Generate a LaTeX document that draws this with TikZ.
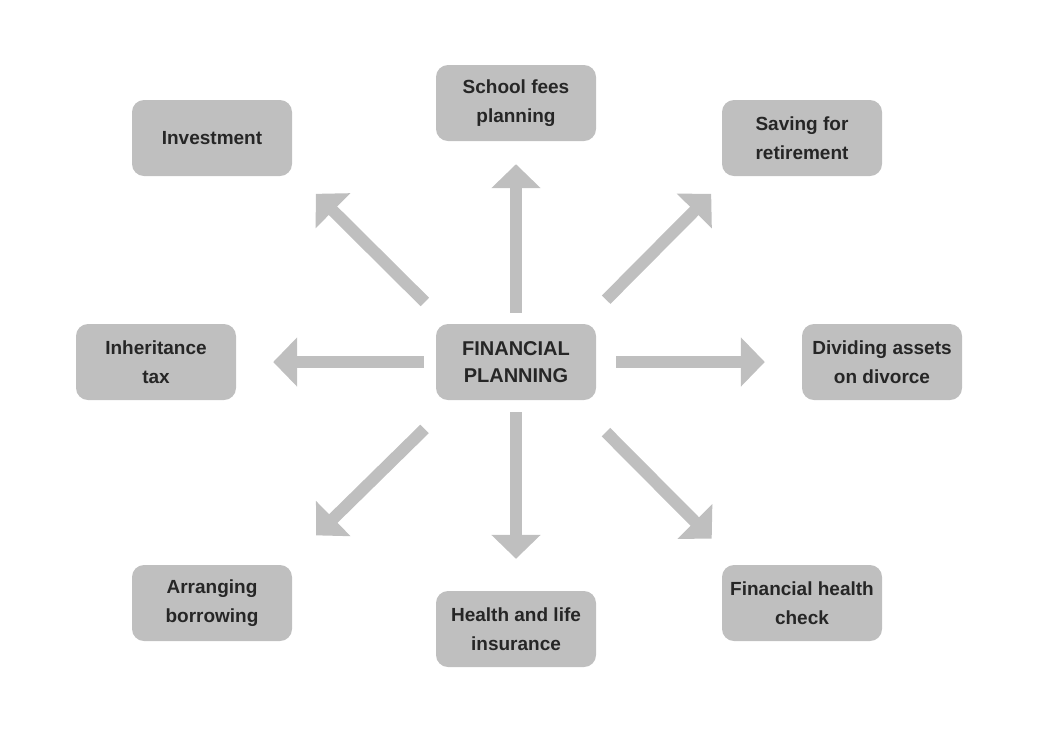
\documentclass[tikz,border=0pt]{standalone}
\usepackage{fontspec}
\setmainfont{Liberation Sans}
\usetikzlibrary{arrows.meta}
\definecolor{boxgray}{HTML}{BFBFBF}
\definecolor{txtgray}{HTML}{262626}

\begin{document}
\begin{tikzpicture}[x=1pt, y=-1pt,
  box/.style={fill=boxgray, rounded corners=12pt, minimum width=160pt,
    minimum height=76pt, align=center, text=txtgray,
    font=\bfseries\fontsize{19}{29}\selectfont},
  arr/.style={draw=boxgray, line width=12pt, -{Triangle[width=48pt,length=24pt]}}]
\useasboundingbox (0,0) rectangle (1047,732);

\node[box, font=\bfseries\fontsize{20}{27}\selectfont] (fp) at (516,362) {FINANCIAL\\PLANNING};

\node[box] (invest) at (212,138) {Investment};
\node[box] (school) at (516,103) {School fees\\planning};
\node[box] (saving) at (802,138) {Saving for\\retirement};

\node[box] (inherit) at (156,362) {Inheritance\\tax};
\node[box] (divide) at (882,362) {Dividing assets\\on divorce};

\node[box] (borrow) at (212,603) {Arranging\\borrowing};
\node[box] (health) at (516,629) {Health and life\\insurance};
\node[box] (check) at (802,603) {Financial health\\check};


\draw[arr, shorten <=11pt, shorten >=23pt] (fp.north) -- (school.south);
\draw[arr, shorten <=12pt, shorten >=32pt] (fp.south) -- (health.north);

\draw[arr, shorten <=20pt, shorten >=37pt] (fp.east) -- (divide.west);
\draw[arr, shorten <=12pt, shorten >=37pt] (fp.west) -- (inherit.east);

% diagonals at 45 degrees
\draw[arr, shorten <=34pt, shorten >=25pt] ([xshift=-14pt]fp.north east) -- ([xshift=7pt]saving.south west);
\draw[arr, shorten <=31pt, shorten >=25pt] ([xshift=11pt]fp.north west) -- ([xshift=6pt]invest.south east);
\draw[arr, shorten <=45pt, shorten >=37pt] ([xshift=-22pt]fp.south east) -- ([xshift=16pt]check.north west);
\draw[arr, shorten <=41pt, shorten >=42pt] ([xshift=18pt]fp.south west) -- ([xshift=-6pt]borrow.north east);

\end{tikzpicture}
\end{document}
